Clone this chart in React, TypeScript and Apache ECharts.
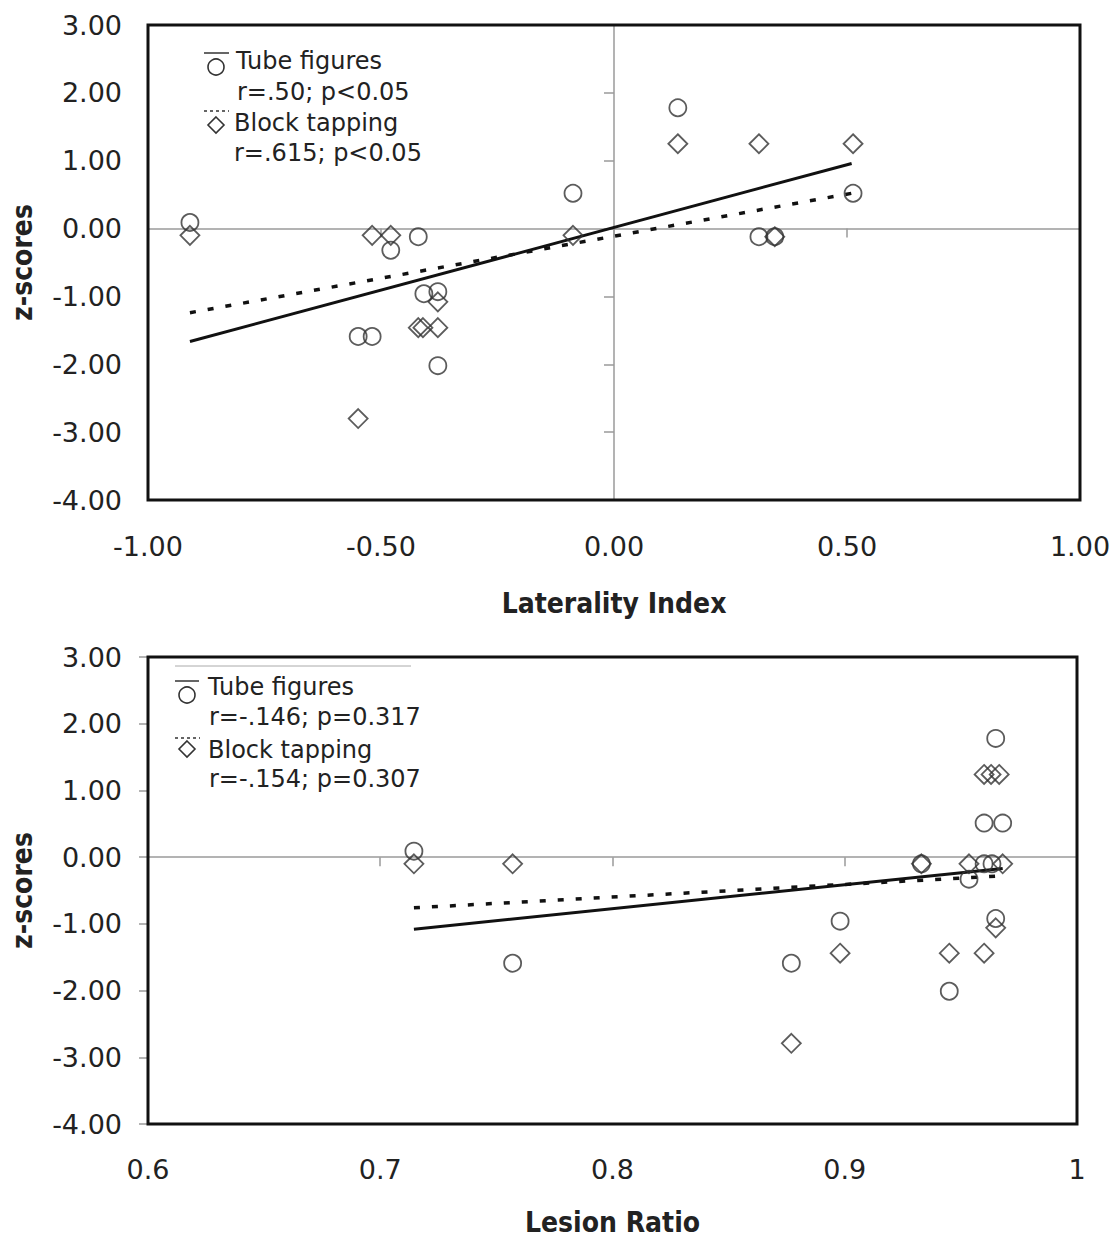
import React, { useEffect, useRef } from "react";
import * as echarts from "echarts";

// ---------- data ----------
const topTubeX = [-0.91, -0.549, -0.519, -0.479, -0.42, -0.408, -0.378, -0.378, -0.088, 0.137, 0.311, 0.345, 0.513];
const topTubeY = [0.09, -1.59, -1.59, -0.32, -0.12, -0.96, -0.93, -2.02, 0.52, 1.78, -0.12, -0.12, 0.52];
const topBlockX = [-0.91, -0.519, -0.479, -0.42, -0.41, -0.378, -0.378, -0.549, -0.088, 0.137, 0.311, 0.513, 0.345];
const topBlockY = [-0.1, -0.1, -0.1, -1.46, -1.46, -1.46, -1.08, -2.8, -0.1, 1.25, 1.25, 1.25, -0.12];

const botTubeX = [0.7145, 0.757, 0.877, 0.898, 0.933, 0.945, 0.9535, 0.96, 0.968, 0.96, 0.9634, 0.965, 0.965];
const botTubeY = [0.09, -1.59, -1.59, -0.96, -0.1, -2.01, -0.33, 0.51, 0.51, -0.1, -0.1, 1.78, -0.92];
const botBlockX = [0.7145, 0.757, 0.877, 0.898, 0.933, 0.945, 0.96, 0.965, 0.96, 0.963, 0.9665, 0.9535, 0.968];
const botBlockY = [-0.1, -0.1, -2.79, -1.44, -0.1, -1.44, -1.44, -1.06, 1.24, 1.24, 1.24, -0.1, -0.1];

// regression line end points
const topTubeTrendX = [-0.91, 0.51];
const topTubeTrendY = [-1.665, 0.96];
const topBlockTrendX = [-0.91, 0.51];
const topBlockTrendY = [-1.24, 0.52];
const botTubeTrendX = [0.7145, 0.968];
const botTubeTrendY = [-1.08, -0.17];
const botBlockTrendX = [0.7145, 0.968];
const botBlockTrendY = [-0.76, -0.28];

const topLegend = ["Tube figures", "r=.50; p<0.05", "Block tapping", "r=.615; p<0.05"];
const botLegend = ["Tube figures", "r=-.146; p=0.317", "Block tapping", "r=-.154; p=0.307"];

const topXTitle = "Laterality Index";
const botXTitle = "Lesion Ratio";
const yTitle = "z-scores";

const zip = (xs: number[], ys: number[]) => xs.map((x, i) => [x, ys[i]]);

const FONT = "'DejaVu Sans', sans-serif";
const BOLD_FONT = "'DejaVu Sans Condensed', 'DejaVu Sans', sans-serif";
const GRAY = "#9a9a9a";
const INK = "#222";

export default function App() {
  const ref = useRef<HTMLDivElement>(null);

  useEffect(() => {
    if (!ref.current) return;
    const chart = echarts.init(ref.current, null, { renderer: "svg" });

    const labelStyle = { fontFamily: FONT, fontSize: 27, color: INK };
    const nameStyle = { fontFamily: BOLD_FONT, fontSize: 28, fontWeight: "bold", color: INK };

    const circleStyle = { color: "rgba(0,0,0,0)", borderColor: "#333", borderWidth: 1.8 };
    const diamondStyle = { color: "rgba(0,0,0,0)", borderColor: "#333", borderWidth: 1.8 };

    const legendText = (x: number, y: number, t: string) => ({
      type: "text",
      x,
      y,
      style: { text: t, font: `24px ${FONT}`, fill: INK, verticalAlign: "middle", align: "left" },
      z: 100,
    });
    const diamondPts = (cx: number, cy: number, r: number) => [
      [cx, cy - r],
      [cx + r, cy],
      [cx, cy + r],
      [cx - r, cy],
    ];

    const option: any = {
      animation: false,
      backgroundColor: "#fff",
      grid: [
        { left: 148, top: 25, width: 932, height: 475, show: true, borderColor: "#111", borderWidth: 3, backgroundColor: "transparent", z: 5 },
        { left: 148, top: 657, width: 929, height: 467, show: true, borderColor: "#111", borderWidth: 3, backgroundColor: "transparent", z: 5 },
      ],
      xAxis: [
        {
          gridIndex: 0, type: "value", min: -1, max: 1, interval: 0.5, position: "bottom",
          axisLine: { show: true, onZero: true, lineStyle: { color: GRAY, width: 1.5 } },
          axisTick: { show: true, length: 9, lineStyle: { color: GRAY, width: 1.5 } },
          axisLabel: { show: false }, splitLine: { show: false },
        },
        {
          gridIndex: 0, type: "value", min: -1, max: 1, interval: 0.5, position: "bottom",
          axisLine: { show: false, onZero: false }, axisTick: { show: false }, splitLine: { show: false },
          axisLabel: { ...labelStyle, margin: 33, formatter: (v: number) => v.toFixed(2) },
          name: topXTitle, nameLocation: "middle", nameGap: 89, nameTextStyle: nameStyle,
        },
        {
          gridIndex: 1, type: "value", min: 0.6, max: 1, interval: 0.1, position: "bottom",
          axisLine: { show: true, onZero: true, lineStyle: { color: GRAY, width: 1.5 } },
          axisTick: { show: true, length: 9, lineStyle: { color: GRAY, width: 1.5 } },
          axisLabel: { show: false }, splitLine: { show: false },
        },
        {
          gridIndex: 1, type: "value", min: 0.6, max: 1, interval: 0.1, position: "bottom",
          axisLine: { show: false, onZero: false }, axisTick: { show: false }, splitLine: { show: false },
          axisLabel: { ...labelStyle, margin: 32, formatter: (v: number) => String(Math.round(v * 10) / 10) },
          name: botXTitle, nameLocation: "middle", nameGap: 84, nameTextStyle: nameStyle,
        },
      ],
      yAxis: [
        {
          gridIndex: 0, type: "value", min: -4, max: 3, interval: 1, position: "left",
          axisLine: { show: true, onZero: true, lineStyle: { color: GRAY, width: 1.5 } },
          axisTick: { show: true, length: 10, lineStyle: { color: GRAY, width: 1.5 } },
          axisLabel: { show: false }, splitLine: { show: false },
        },
        {
          gridIndex: 0, type: "value", min: -4, max: 3, interval: 1, position: "left",
          axisLine: { show: false, onZero: false }, axisTick: { show: false }, splitLine: { show: false },
          axisLabel: { ...labelStyle, margin: 26, formatter: (v: number) => v.toFixed(2) },
          name: yTitle, nameLocation: "middle", nameRotate: 90, nameGap: 112, nameTextStyle: nameStyle,
        },
        {
          gridIndex: 1, type: "value", min: -4, max: 3, interval: 1, position: "left",
          axisLine: { show: false, onZero: false },
          axisTick: { show: true, length: 9, lineStyle: { color: GRAY, width: 1.5 } },
          splitLine: { show: false },
          axisLabel: { ...labelStyle, margin: 26, formatter: (v: number) => v.toFixed(2) },
          name: yTitle, nameLocation: "middle", nameRotate: 90, nameGap: 112, nameTextStyle: nameStyle,
        },
      ],
      series: [
        { type: "line", xAxisIndex: 0, yAxisIndex: 0, data: zip(topTubeTrendX, topTubeTrendY), symbol: "none", lineStyle: { color: "#111", width: 3 }, z: 3 },
        { type: "line", xAxisIndex: 0, yAxisIndex: 0, data: zip(topBlockTrendX, topBlockTrendY), symbol: "none", lineStyle: { color: "#111", width: 3.5, type: [6, 12] }, z: 3 },
        { type: "scatter", xAxisIndex: 0, yAxisIndex: 0, data: zip(topTubeX, topTubeY), symbol: "circle", symbolSize: 17, itemStyle: circleStyle, z: 4 },
        { type: "scatter", xAxisIndex: 0, yAxisIndex: 0, data: zip(topBlockX, topBlockY), symbol: "diamond", symbolSize: 19, itemStyle: diamondStyle, z: 4 },
        { type: "line", xAxisIndex: 2, yAxisIndex: 2, data: zip(botTubeTrendX, botTubeTrendY), symbol: "none", lineStyle: { color: "#111", width: 3 }, z: 3 },
        { type: "line", xAxisIndex: 2, yAxisIndex: 2, data: zip(botBlockTrendX, botBlockTrendY), symbol: "none", lineStyle: { color: "#111", width: 3.5, type: [6, 12] }, z: 3 },
        { type: "scatter", xAxisIndex: 2, yAxisIndex: 2, data: zip(botTubeX, botTubeY), symbol: "circle", symbolSize: 17, itemStyle: circleStyle, z: 4 },
        { type: "scatter", xAxisIndex: 2, yAxisIndex: 2, data: zip(botBlockX, botBlockY), symbol: "diamond", symbolSize: 19, itemStyle: diamondStyle, z: 4 },
      ],
      graphic: [
        // top legend
        { type: "line", shape: { x1: 204, y1: 53, x2: 229, y2: 53 }, style: { stroke: "#333", lineWidth: 1.5 }, z: 100 },
        { type: "circle", shape: { cx: 216, cy: 67, r: 8 }, style: { fill: "none", stroke: "#333", lineWidth: 1.6 }, z: 100 },
        { type: "line", shape: { x1: 204, y1: 111, x2: 229, y2: 111 }, style: { stroke: "#333", lineWidth: 1.5, lineDash: [3, 3] }, z: 100 },
        { type: "polygon", shape: { points: diamondPts(216, 125, 8) }, style: { fill: "none", stroke: "#333", lineWidth: 1.6 }, z: 100 },
        legendText(236, 61, topLegend[0]),
        legendText(237, 92, topLegend[1]),
        legendText(234, 123, topLegend[2]),
        legendText(234, 153, topLegend[3]),
        // bottom legend
        { type: "line", shape: { x1: 175, y1: 666, x2: 411, y2: 666 }, style: { stroke: "#aaa", lineWidth: 1 }, z: 100 },
        { type: "line", shape: { x1: 175, y1: 681, x2: 199, y2: 681 }, style: { stroke: "#333", lineWidth: 1.5 }, z: 100 },
        { type: "circle", shape: { cx: 187, cy: 695, r: 8 }, style: { fill: "none", stroke: "#333", lineWidth: 1.6 }, z: 100 },
        { type: "line", shape: { x1: 175, y1: 738, x2: 200, y2: 738 }, style: { stroke: "#333", lineWidth: 1.5, lineDash: [3, 3] }, z: 100 },
        { type: "polygon", shape: { points: diamondPts(187, 749, 8) }, style: { fill: "none", stroke: "#333", lineWidth: 1.6 }, z: 100 },
        legendText(208, 687, botLegend[0]),
        legendText(209, 717, botLegend[1]),
        legendText(208, 750, botLegend[2]),
        legendText(209, 779, botLegend[3]),
      ],
    };

    chart.setOption(option);
    return () => chart.dispose();
  }, []);

  return (
    <div
      ref={ref}
      style={{ position: "absolute", left: 0, top: 0, width: 1118, height: 1239, background: "#fff" }}
    />
  );
}
